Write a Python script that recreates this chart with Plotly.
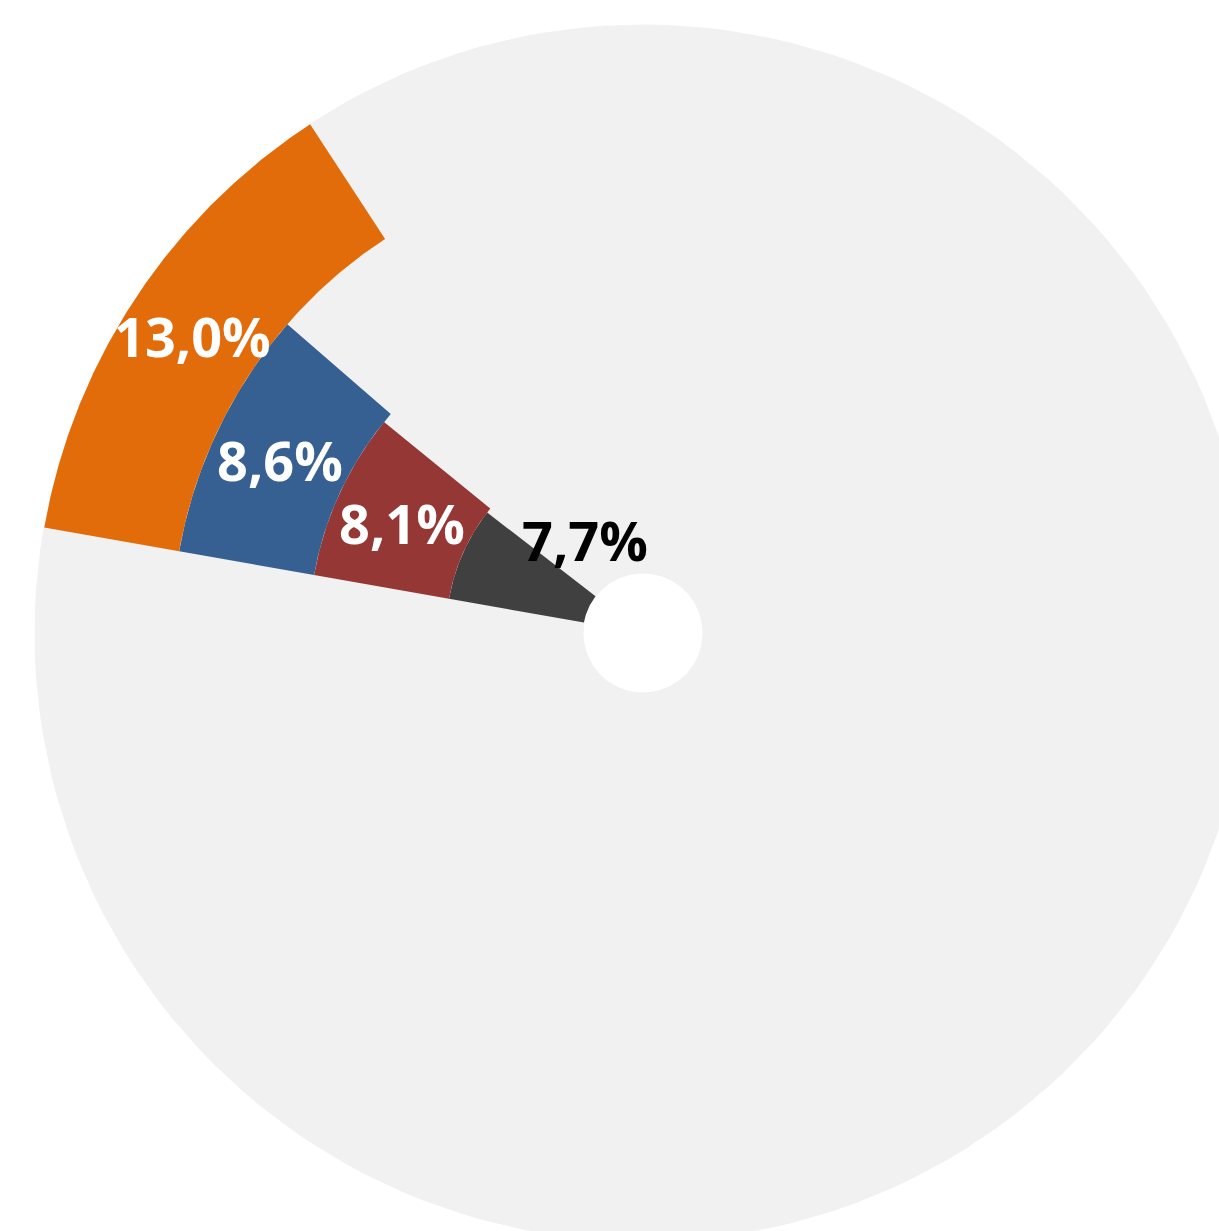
import numpy as np
import plotly.graph_objects as go

# ---- data (inner ring -> outer ring) ----
categories = ["Ring 1", "Ring 2", "Ring 3", "Ring 4"]
shares = [7.7, 8.1, 8.6, 13.0]          # percent
labels = ["7,7%", "8,1%", "8,6%", "13,0%"]

# ---- styling ----
colors = ["#404040", "#953735", "#376092", "#E36C0A"]
label_colors = ["black", "white", "white", "white"]
rest_color = "#F1F1F1"
W, H = 1219, 1231
CX, CY = 643, 633            # centre in figure pixels
HOLE = 60
RING_W = 137
START = 280.0                # compass degrees, clockwise
# manual placement of the innermost label (radius, compass angle); None = centred in slice
label_place = [(110, 328), None, None, None]


def sector(r0, r1, a0, a1, n=160):
    t = np.radians(np.linspace(a0, a1, n))
    xo, yo = r1 * np.sin(t), r1 * np.cos(t)
    xi, yi = r0 * np.sin(t[::-1]), r0 * np.cos(t[::-1])
    x = np.concatenate([xo, xi, xo[:1]])
    y = np.concatenate([yo, yi, yo[:1]])
    return x, y


fig = go.Figure()
annotations = []
# remainders (light grey) first
for i, v in enumerate(shares):
    r0 = HOLE + i * RING_W
    r1 = r0 + RING_W
    x, y = sector(r0, r1, START + v * 3.6, START + 360)
    fig.add_trace(go.Scatter(x=x, y=y, mode="lines", fill="toself",
                             fillcolor=rest_color, line=dict(width=1, color=rest_color),
                             hoverinfo="skip", showlegend=False))
# coloured slices
for i, (cat, v) in enumerate(zip(categories, shares)):
    r0 = HOLE + i * RING_W
    r1 = r0 + RING_W
    x, y = sector(r0, r1, START, START + v * 3.6)
    fig.add_trace(go.Scatter(x=x, y=y, mode="lines", fill="toself",
                             fillcolor=colors[i], line=dict(width=0),
                             name=cat, hoverinfo="name", showlegend=False))
    if label_place[i] is None:
        rm, am = (r0 + r1) / 2, START + v * 1.8
    else:
        rm, am = label_place[i]
    annotations.append(dict(
        x=rm * np.sin(np.radians(am)), y=rm * np.cos(np.radians(am)),
        xref="x", yref="y", text=labels[i], showarrow=False,
        xanchor="center", yanchor="middle",
        font=dict(family="Open Sans", size=54, color=label_colors[i], weight="bold")))

fig.update_layout(
    width=W, height=H,
    margin=dict(l=0, r=0, t=0, b=0),
    paper_bgcolor="white", plot_bgcolor="white",
    xaxis=dict(range=[-CX, W - CX], visible=False),
    yaxis=dict(range=[-(H - CY), CY], visible=False),
    annotations=annotations,
)
fig.write_html(
    "out.html",
    config={"displayModeBar": False},
    post_script="document.body.style.margin='0';document.body.style.overflow='hidden';"
                "document.documentElement.style.overflow='hidden';",
)
